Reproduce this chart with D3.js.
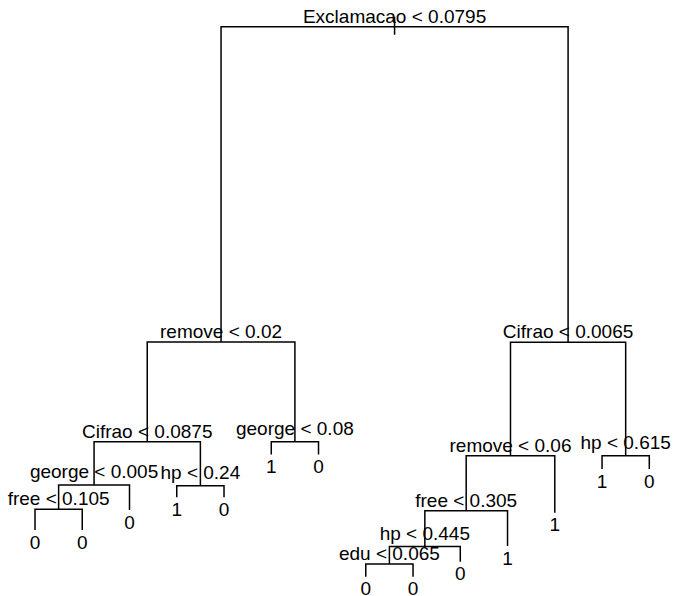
<!DOCTYPE html>
<html>
<head>
<meta charset="utf-8">
<script src="https://cdn.jsdelivr.net/npm/d3@7"></script>
<style>
  html, body { margin: 0; padding: 0; background: #fff; }
  svg { display: block; }
</style>
</head>
<body>
<svg id="chart" width="674" height="596"></svg>
<script>
// Tree nodes in R "tree" numbering (children of n are 2n and 2n+1)
const nodeIds = [1, 2, 3, 4, 5, 6, 7, 8, 9, 10, 11, 12, 13, 14, 15, 16, 17, 18, 19, 24, 25, 32, 33, 48, 49, 96, 97];
// Split text for internal nodes, predicted class for leaves
const nodeLabels = ["Exclamacao < 0.0795", "remove < 0.02", "Cifrao < 0.0065", "Cifrao < 0.0875", "george < 0.08",
  "remove < 0.06", "hp < 0.615", "george < 0.005", "hp < 0.24", "1", "0", "free < 0.305", "1", "1", "0",
  "free < 0.105", "0", "1", "0", "hp < 0.445", "1", "0", "0", "edu < 0.065", "0", "0", "0"];
// Node deviance (plotted on the vertical axis)
const nodeDeviance = [5500, 2347, 2344, 1350, 1350, 1210, 1210, 917, 910, 1222, 1222, 659, 640, 1077, 1077,
  674, 667, 794, 794, 302, 307, 467, 467, 127, 150, 0, 0];

const svg = d3.select("#chart");
const fontFamily = "'Liberation Sans', Arial, Helvetica, sans-serif";
const fontSize = 19;

// Build node map
const nodes = new Map();
nodeIds.forEach((id, i) => nodes.set(id, { id, label: nodeLabels[i], dev: nodeDeviance[i] }));
nodes.forEach(n => { n.leaf = !nodes.has(2 * n.id); });

// In-order leaf ordering
const leafOrder = [];
(function walk(id) {
  const n = nodes.get(id);
  if (n.leaf) { leafOrder.push(id); return; }
  walk(2 * id); walk(2 * id + 1);
})(1);

const x = d3.scaleLinear().domain([1, leafOrder.length]).range([35, 649.3]);
const y = d3.scaleLinear().domain([0, d3.max(nodeDeviance)]).range([576.7, 26.7]);

leafOrder.forEach((id, i) => { nodes.get(id).xv = i + 1; });
(function pos(id) {
  const n = nodes.get(id);
  if (n.leaf) return n.xv;
  n.xv = (pos(2 * id) + pos(2 * id + 1)) / 2;
  return n.xv;
})(1);

const g = svg.append("g");

// Branch lines
const path = d3.path();
nodes.forEach(n => {
  if (n.leaf) return;
  const l = nodes.get(2 * n.id), r = nodes.get(2 * n.id + 1);
  path.moveTo(x(l.xv), y(l.dev));
  path.lineTo(x(l.xv), y(n.dev));
  path.lineTo(x(r.xv), y(n.dev));
  path.lineTo(x(r.xv), y(r.dev));
});
// Root stem
const root = nodes.get(1);
path.moveTo(x(root.xv), y(root.dev) - 10);
path.lineTo(x(root.xv), y(root.dev) + 8);

g.append("path")
  .attr("d", path.toString())
  .attr("fill", "none")
  .attr("stroke", "#000")
  .attr("stroke-width", 1.5);

// Labels
const all = Array.from(nodes.values());
g.selectAll("text.split")
  .data(all.filter(n => !n.leaf))
  .join("text")
  .attr("class", "split")
  .attr("x", n => x(n.xv))
  .attr("y", n => y(n.dev) - 4 - (/[gjpqy]/.test(n.label) ? 3 : 0))
  .attr("text-anchor", "middle")
  .attr("font-family", fontFamily)
  .attr("font-size", fontSize)
  .attr("fill", "#000")
  .text(n => n.label);

g.selectAll("text.leaf")
  .data(all.filter(n => n.leaf))
  .join("text")
  .attr("class", "leaf")
  .attr("x", n => x(n.xv))
  .attr("y", n => y(n.dev) + 18.5)
  .attr("text-anchor", "middle")
  .attr("font-family", fontFamily)
  .attr("font-size", fontSize)
  .attr("fill", "#000")
  .text(n => n.label);
</script>
</body>
</html>
